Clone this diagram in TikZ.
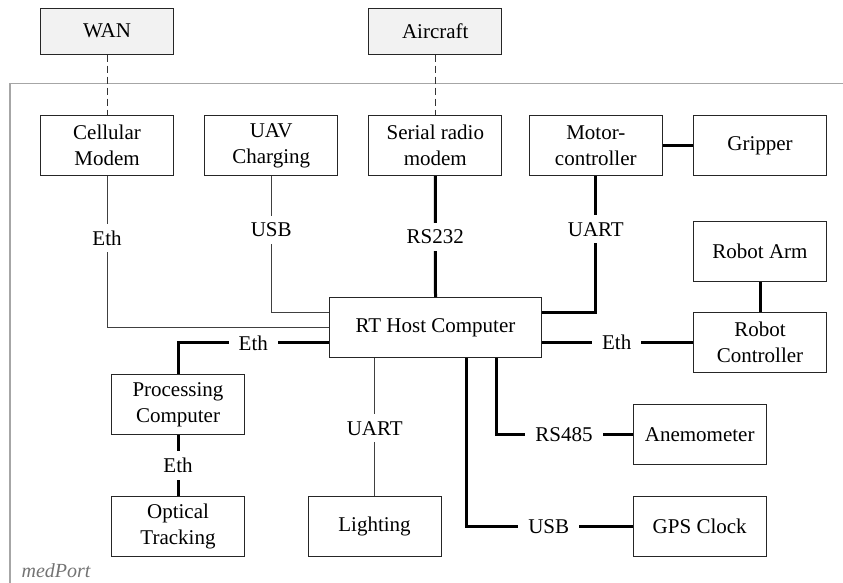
\documentclass[tikz,border=0pt]{standalone}
\usepackage{fontspec}
\setmainfont{Liberation Serif}
\begin{document}
\begin{tikzpicture}[x=1pt,y=-1pt,
  every node/.style={font=\fontsize{21}{26}\selectfont},
  box/.style={draw=black!85, line width=1pt, fill=white, minimum width=133pt, minimum height=60pt, align=center, inner sep=0pt},
  extbox/.style={box, fill=black!5, minimum height=46pt},
  thickline/.style={line width=3pt, black},
  thinline/.style={line width=1pt, black!75},
  dashline/.style={line width=1pt, black!80, dash pattern=on 7pt off 4pt},
  lbl/.style={fill=white, inner xsep=10pt, inner ysep=7pt}
]
\useasboundingbox (0,0) rectangle (843,582);
% frame
\draw[black!35, line width=1.3pt] (10,590) -- (10,83.3) -- (850,83.3);
\node[text=black!55, font=\fontsize{20}{24}\selectfont\itshape] (med) at (56,570.5) {medPort};

% nodes
\node[extbox] (wan) at (107,31.2) {WAN};
\node[extbox] (air) at (435.3,31.2) {Aircraft};
\node[box] (cell) at (107,145.5) {Cellular\\Modem};
\node[box] (uav) at (271.2,145.5) {UAV\\Charging};
\node[box] (radio) at (435.3,145.5) {Serial radio\\modem};
\node[box] (motor) at (595.8,145.5) {Motor-\\controller};
\node[box] (grip) at (760,145.5) {Gripper};
\node[box] (arm) at (760,251) {Robot Arm};
\node[box] (rctrl) at (760,342.7) {Robot\\Controller};
\node[box, minimum width=212pt] (rt) at (435.5,327.7) {RT Host Computer};
\node[box] (proc) at (178,404.3) {Processing\\Computer};
\node[box] (opt) at (178,526.8) {Optical\\Tracking};
\node[box] (light) at (374.5,526.8) {Lighting};
\node[box] (anem) at (699.7,434.5) {Anemometer};
\node[box] (gps) at (699.7,526.3) {GPS Clock};

% dashed external links
\draw[dashline] (wan.south) -- (cell.north);
\draw[dashline] (air.south) -- (radio.north);

% connectors
\draw[thinline] (cell.south) |- (rt.west);
\draw[thinline] (uav.south) |- ([yshift=15pt]rt.west);
\draw[thickline] (radio.south) -- (rt.north);
\draw[thickline] (motor.south) |- ([yshift=15pt]rt.east);
\draw[thickline] (motor.east) -- (grip.west);
\draw[thickline] (arm.south) -- (rctrl.north);
\draw[thickline] ([yshift=-15pt]rt.east) -- (rctrl.west);
\draw[thickline] ([yshift=-15pt]rt.west) -| (proc.north);
\draw[thickline] (proc.south) -- (opt.north);
\draw[thinline] (light.north |- rt.south) -- (light.north);
\draw[thickline] ([xshift=61pt]rt.south) |- (anem.west);
\draw[thickline] ([xshift=30.5pt]rt.south) |- (gps.west);

% labels
\node[lbl] (l1) at (107,238) {Eth};
\node[lbl] (l2) at (271.2,230) {USB};
\node[lbl] (l3) at (435.3,236.7) {RS232};
\node[lbl] (l4) at (595.8,229.3) {UART};
\node[lbl] (l5) at (253.3,343) {Eth};
\node[lbl] (l6) at (616.7,342.7) {Eth};
\node[lbl] (l7) at (178,465.7) {Eth};
\node[lbl] (l8) at (374.7,428.3) {UART};
\node[lbl] (l9) at (564,435) {RS485};
\node[lbl] (l10) at (548.7,526.7) {USB};
\end{tikzpicture}
\end{document}
